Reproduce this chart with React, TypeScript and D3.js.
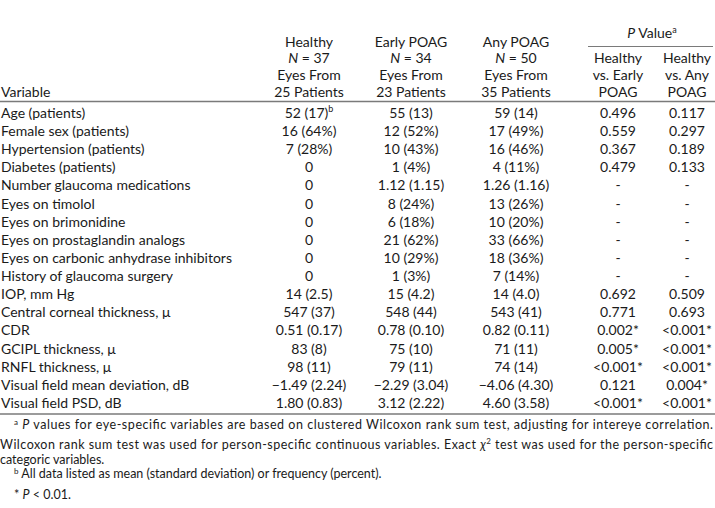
import React from "react";
import * as d3 from "d3";

const variables = [
  "Age (patients)",
  "Female sex (patients)",
  "Hypertension (patients)",
  "Diabetes (patients)",
  "Number glaucoma medications",
  "Eyes on timolol",
  "Eyes on brimonidine",
  "Eyes on prostaglandin analogs",
  "Eyes on carbonic anhydrase inhibitors",
  "History of glaucoma surgery",
  "IOP, mm Hg",
  "Central corneal thickness, \u03bc",
  "CDR",
  "GCIPL thickness, \u03bc",
  "RNFL thickness, \u03bc",
  "Visual field mean deviation, dB",
  "Visual field PSD, dB",
];
const healthy = ["52 (17)", "16 (64%)", "7 (28%)", "0", "0", "0", "0", "0", "0", "0", "14 (2.5)", "547 (37)", "0.51 (0.17)", "83 (8)", "98 (11)", "\u22121.49 (2.24)", "1.80 (0.83)"];
const earlyPOAG = ["55 (13)", "12 (52%)", "10 (43%)", "1 (4%)", "1.12 (1.15)", "8 (24%)", "6 (18%)", "21 (62%)", "10 (29%)", "1 (3%)", "15 (4.2)", "548 (44)", "0.78 (0.10)", "75 (10)", "79 (11)", "\u22122.29 (3.04)", "3.12 (2.22)"];
const anyPOAG = ["59 (14)", "17 (49%)", "16 (46%)", "4 (11%)", "1.26 (1.16)", "13 (26%)", "10 (20%)", "33 (66%)", "18 (36%)", "7 (14%)", "14 (4.0)", "543 (41)", "0.82 (0.11)", "71 (11)", "74 (14)", "\u22124.06 (4.30)", "4.60 (3.58)"];
const pEarly = ["0.496", "0.559", "0.367", "0.479", "-", "-", "-", "-", "-", "-", "0.692", "0.771", "0.002*", "0.005*", "<0.001*", "0.121", "<0.001*"];
const pAny = ["0.117", "0.297", "0.189", "0.133", "-", "-", "-", "-", "-", "-", "0.509", "0.693", "<0.001*", "<0.001*", "<0.001*", "0.004*", "<0.001*"];

const columnKeys = ["healthy", "early", "any", "pEarly", "pAny"];
const columnHeaders = [
  ["Healthy", "N37", "Eyes From", "25 Patients"],
  ["Early POAG", "N34", "Eyes From", "23 Patients"],
  ["Any POAG", "N50", "Eyes From", "35 Patients"],
  ["", "Healthy", "vs. Early", "POAG"],
  ["", "Healthy", "vs. Any", "POAG"],
];

const W = 715;
const H = 508;
const FONT = "Lato, 'Open Sans', sans-serif";
const FS = 14;
const INK = "#1a1a1a";
const RULE = "#7a7a7a";

export default function App() {
  const xCol = d3.scaleOrdinal<string, number>().domain(columnKeys).range([309, 411, 516, 618, 687]);
  const y = d3.scalePoint<string>().domain(variables).range([113, 403]);
  const headerY = [42, 58, 75, 92];
  const cols = [healthy, earlyPOAG, anyPOAG, pEarly, pAny];

  return (
    <div style={{ position: "fixed", left: 0, top: 0, width: W, height: H, overflow: "hidden" }}>
      <svg width={W} height={H} style={{ display: "block", background: "#fff" }} fontFamily={FONT} fill={INK}>
        {/* header */}
        <text x={1} y={headerY[3]} dy="0.35em" fontSize={FS}>Variable</text>
        {columnHeaders.map((lines, ci) => (
          <g key={ci}>
            {lines.map((l, li) =>
              l === "" ? null : l.startsWith("N") && l.length === 3 ? (
                <text key={li} x={xCol(columnKeys[ci])} y={headerY[li]} dy="0.35em" fontSize={FS} textAnchor="middle">
                  <tspan fontStyle="italic">N</tspan>
                  <tspan> = {l.slice(1)}</tspan>
                </text>
              ) : (
                <text key={li} x={xCol(columnKeys[ci])} y={headerY[li]} dy="0.35em" fontSize={FS} textAnchor="middle">{l}</text>
              )
            )}
          </g>
        ))}
        <text x={652} y={33} dy="0.35em" fontSize={FS} textAnchor="middle">
          <tspan fontStyle="italic">P</tspan>
          <tspan> Value</tspan>
          <tspan fontSize={9} dy={-5}>a</tspan>
        </text>
        <line x1={588} x2={713} y1={46.5} y2={46.5} stroke={RULE} strokeWidth={1.2} />
        <line x1={0} x2={715} y1={101.5} y2={101.5} stroke={RULE} strokeWidth={1.6} />

        {/* body */}
        {variables.map((v, ri) => (
          <g key={v}>
            <text x={1} y={y(v)} dy="0.35em" fontSize={FS}>{v}</text>
            {cols.map((col, ci) => (
              <text key={ci} x={xCol(columnKeys[ci])} y={y(v)} dy="0.35em" fontSize={FS} textAnchor="middle">
                {col[ri]}
                {ri === 0 && ci === 0 ? <tspan fontSize={9} dy={-6}>b</tspan> : null}
              </text>
            ))}
          </g>
        ))}
        <line x1={0} x2={715} y1={414} y2={414} stroke={RULE} strokeWidth={1.6} />

        {/* footnotes */}
        <g fontSize={12.5}>
          <text x={14} y={429} dy="0.35em" textLength={699} lengthAdjust="spacing">
            <tspan fontSize={8} dy={-4}>a</tspan>
            <tspan dy={4}> </tspan>
            <tspan fontStyle="italic">P</tspan>
            <tspan> values for eye-specific variables are based on clustered Wilcoxon rank sum test, adjusting for intereye correlation.</tspan>
          </text>
          <text x={0} y={445} dy="0.35em" textLength={713} lengthAdjust="spacing">
            Wilcoxon rank sum test was used for person-specific continuous variables. Exact <tspan fontStyle="italic">{"\u03c7"}</tspan>
            <tspan fontSize={8} dy={-5}>2</tspan>
            <tspan dy={5}> test was used for the person-specific</tspan>
          </text>
          <text x={0} y={460} dy="0.35em">categoric variables.</text>
          <text x={14} y={478} dy="0.35em">
            <tspan fontSize={8} dy={-4}>b</tspan>
            <tspan dy={4}> All data listed as mean (standard deviation) or frequency (percent).</tspan>
          </text>
          <text x={14} y={495} dy="0.35em">
            <tspan>* </tspan>
            <tspan fontStyle="italic">P</tspan>
            <tspan> &lt; 0.01.</tspan>
          </text>
        </g>
      </svg>
    </div>
  );
}
